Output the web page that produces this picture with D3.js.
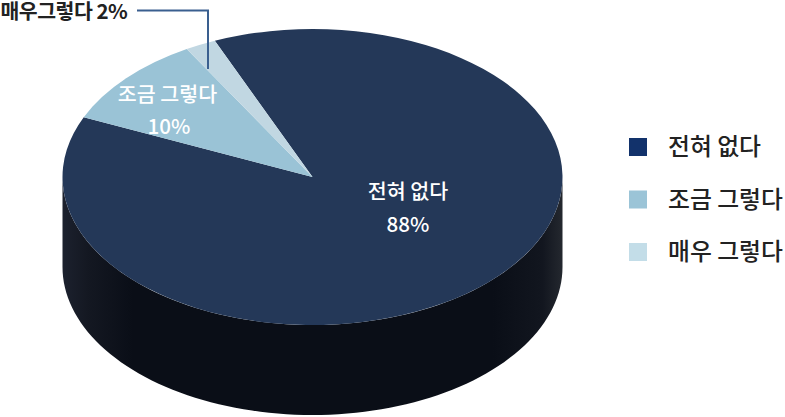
<!DOCTYPE html>
<html>
<head>
<meta charset="utf-8">
<script src="https://cdn.jsdelivr.net/npm/d3@7"></script>
<style>
  html, body { margin: 0; padding: 0; background: #fff; }
  text { font-family: "Noto Sans CJK KR", sans-serif; }
</style>
</head>
<body>
<div id="chart"></div>
<script>
let w = 785;
let h = 417;

// data
let categories = ["전혀 없다", "조금 그렇다", "매우 그렇다"];
let values = [88, 10, 2];
let sliceColors = ["#243858", "#9ac3d6", "#c1d7e2"];
let legendColors = ["#12326b", "#9bc4d7", "#c3dde8"];

// pie geometry
let cx = 312.5, cy = 177, rx = 250, ry = 148, depth = 90;
let startAngle = -23 * Math.PI / 180;

let svg = d3.select("#chart").append("svg")
  .attr("width", w)
  .attr("height", h)
  .style("display", "block");

// side wall gradient
let grad = svg.append("defs").append("linearGradient")
  .attr("id", "side")
  .attr("x1", 0).attr("x2", 1).attr("y1", 0).attr("y2", 0);
grad.selectAll("stop")
  .data([[0, "#1c212e"], [0.05, "#141822"], [0.14, "#0a0e17"], [0.86, "#0a0e17"], [0.96, "#12161f"], [1, "#24282f"]])
  .enter().append("stop")
  .attr("offset", d => d[0])
  .attr("stop-color", d => d[1]);

// front half of the rim, extruded downward
let sideArea = d3.area()
  .x(a => cx + rx * Math.cos(a))
  .y0(a => cy + ry * Math.sin(a))
  .y1(a => cy + depth + ry * Math.sin(a));

svg.append("path")
  .attr("d", sideArea(d3.range(0, 181, 2).map(a => a * Math.PI / 180)))
  .attr("fill", "url(#side)");

// top face
let pie = d3.pie().sort(null)
  .startAngle(startAngle)
  .endAngle(startAngle + 2 * Math.PI);
let arc = d3.arc().innerRadius(0).outerRadius(rx);

let topFace = svg.append("g")
  .attr("transform", "translate(" + cx + "," + cy + ") scale(1," + (ry / rx) + ")");

topFace.selectAll("path")
  .data(pie(values))
  .enter().append("path")
  .attr("d", arc)
  .attr("fill", (d, i) => sliceColors[i]);

// labels on the slices
let labels = [
  { x: 408, y: 199, t: categories[0] },
  { x: 408, y: 232, t: values[0] + "%" },
  { x: 167.5, y: 102, t: categories[1] },
  { x: 169, y: 134, t: values[1] + "%" }
];
svg.selectAll(".lab").data(labels).enter().append("text")
  .attr("class", "lab")
  .attr("x", d => d.x)
  .attr("y", d => d.y)
  .attr("text-anchor", "middle")
  .attr("fill", "#fff")
  .attr("font-size", 20.6)
  .attr("font-weight", 500)
  .text(d => d.t);

// callout for the small slice
svg.append("text")
  .attr("x", 0.5)
  .attr("y", 19)
  .attr("fill", "#222")
  .attr("font-size", 20.5)
  .attr("font-weight", 700)
  .attr("letter-spacing", -0.5)
  .text("매우그렇다 " + values[2] + "%");

svg.append("path")
  .attr("d", d3.line()([[137, 10.5], [208, 10.5], [208, 69]]))
  .attr("fill", "none")
  .attr("stroke", "#3a5f8f")
  .attr("stroke-width", 2);

// legend
let legendY = d3.scalePoint().domain(categories).range([147, 252]);

let legend = svg.selectAll(".legend").data(categories).enter().append("g")
  .attr("class", "legend")
  .attr("transform", d => "translate(0," + legendY(d) + ")");

legend.append("rect")
  .attr("x", 629)
  .attr("y", -9)
  .attr("width", 18)
  .attr("height", 18)
  .attr("fill", (d, i) => legendColors[i]);

legend.append("text")
  .attr("x", 668)
  .attr("y", 8)
  .attr("fill", "#222")
  .attr("font-size", 23.8)
  .attr("font-weight", 500)
  .text(d => d);
</script>
</body>
</html>
